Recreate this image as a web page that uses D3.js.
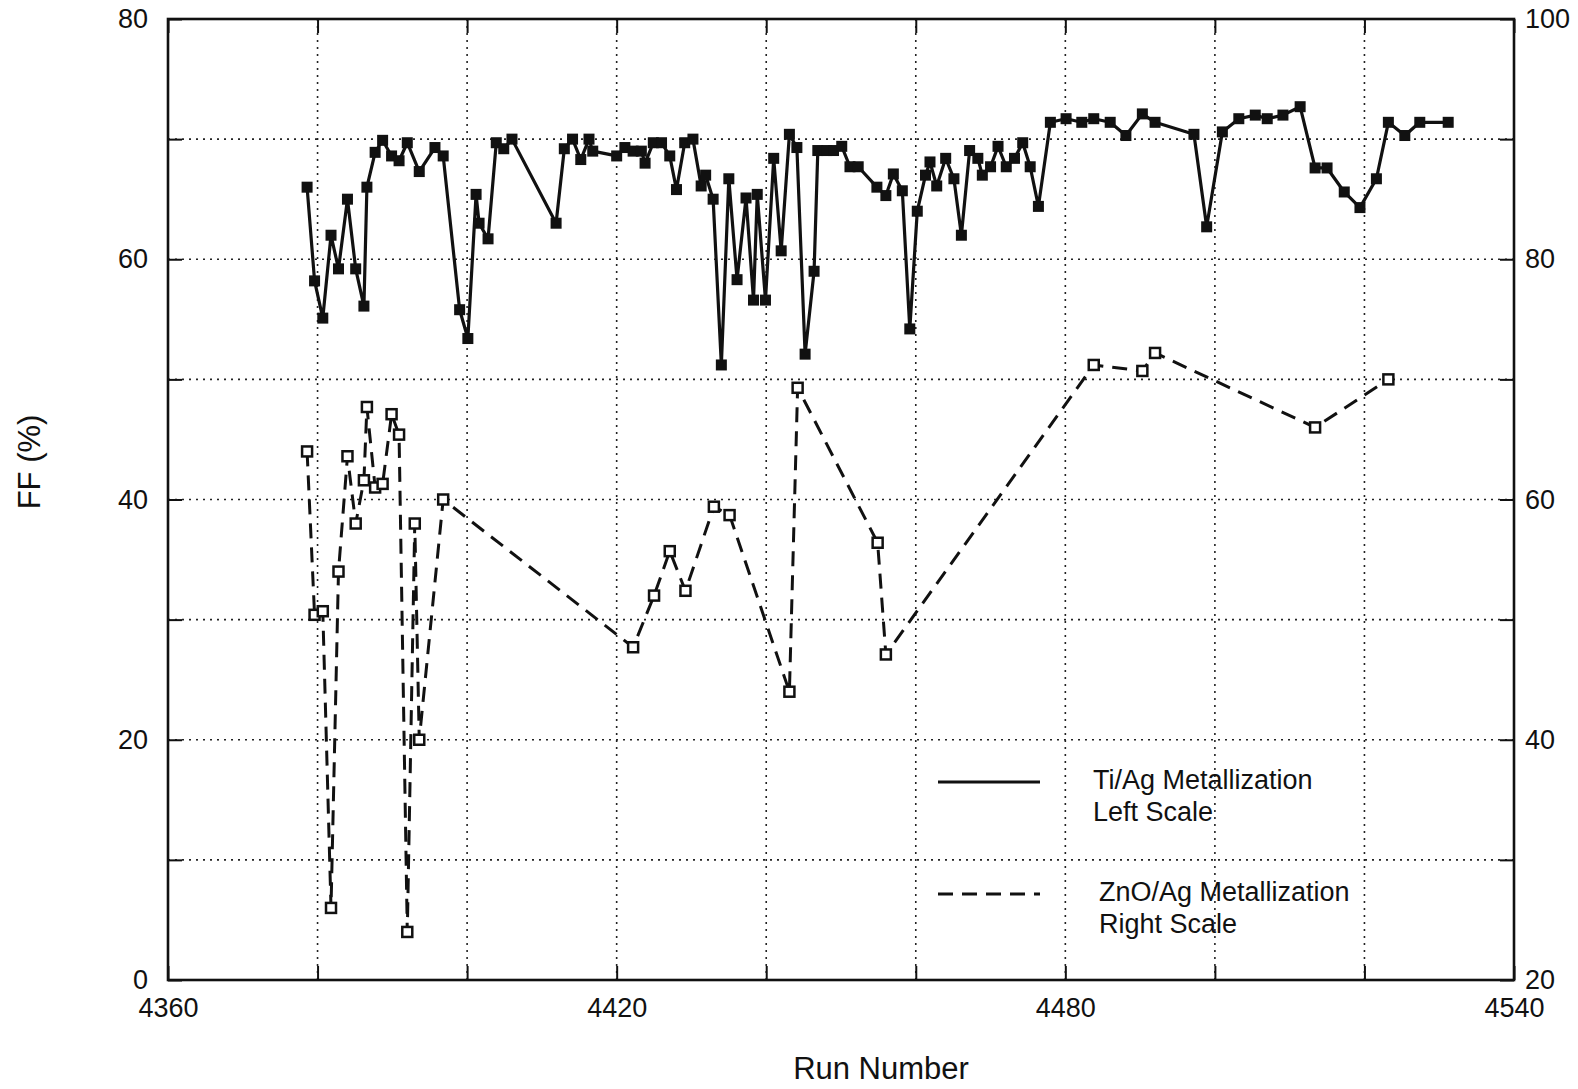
<!DOCTYPE html>
<html>
<head>
<meta charset="utf-8">
<script src="https://cdn.jsdelivr.net/npm/d3@7"></script>
<style>
  body { margin: 0; background: #fff; }
  text { font-family: "Liberation Sans", Arial, Helvetica, sans-serif; fill: #111; }
</style>
</head>
<body>
<svg id="chart" width="1578" height="1089"></svg>
<script>
// Ti/Ag metallization (left scale)
const tiRuns = [4378.6, 4379.6, 4380.7, 4381.8, 4382.8, 4384.0, 4385.1, 4386.2, 4386.6, 4387.7,
  4388.7, 4389.9, 4390.9, 4392.0, 4393.6, 4395.7, 4396.8, 4399.0, 4400.1, 4401.2,
  4401.6, 4402.8, 4403.9, 4404.9, 4406.0, 4411.9, 4413.0, 4414.1, 4415.2, 4416.3,
  4416.8, 4420.0, 4421.1, 4422.2, 4423.3, 4423.8, 4424.9, 4426.0, 4427.1, 4428.0,
  4429.1, 4430.2, 4431.3, 4431.9, 4432.9, 4434.0, 4435.0, 4436.1, 4437.3, 4438.3,
  4438.8, 4439.9, 4441.0, 4442.0, 4443.1, 4444.1, 4445.2, 4446.4, 4446.9, 4448.1,
  4449.0, 4450.1, 4451.2, 4452.3, 4454.8, 4456.0, 4457.0, 4458.2, 4459.2, 4460.2,
  4461.3, 4461.9, 4462.8, 4464.0, 4465.1, 4466.1, 4467.2, 4468.3, 4468.9, 4470.0,
  4471.0, 4472.1, 4473.2, 4474.3, 4475.3, 4476.4, 4478.0, 4480.1, 4482.2, 4483.8,
  4486.0, 4488.1, 4490.3, 4492.0, 4497.2, 4498.9, 4501.0, 4503.2, 4505.4, 4507.0,
  4509.1, 4511.4, 4513.4, 4515.0, 4517.3, 4519.4, 4521.6, 4523.2, 4525.4, 4527.4, 4531.2];
const tiFF = [66.0, 58.2, 55.1, 62.0, 59.2, 65.0, 59.2, 56.1, 66.0, 68.9,
  69.9, 68.6, 68.2, 69.7, 67.3, 69.3, 68.6, 55.8, 53.4, 65.4,
  63.0, 61.7, 69.7, 69.2, 70.0, 63.0, 69.2, 70.0, 68.3, 70.0,
  69.0, 68.6, 69.3, 69.0, 69.0, 68.0, 69.7, 69.7, 68.6, 65.8,
  69.7, 70.0, 66.1, 67.0, 65.0, 51.2, 66.7, 58.3, 65.1, 56.6,
  65.4, 56.6, 68.4, 60.7, 70.4, 69.3, 52.1, 59.0, 69.05, 69.05,
  69.05, 69.4, 67.7, 67.7, 66.0, 65.3, 67.1, 65.7, 54.2, 64.0,
  67.0, 68.1, 66.1, 68.4, 66.7, 62.0, 69.05, 68.4, 67.0, 67.7,
  69.4, 67.7, 68.4, 69.7, 67.7, 64.4, 71.4, 71.7, 71.4, 71.7,
  71.4, 70.3, 72.1, 71.4, 70.4, 62.7, 70.6, 71.7, 72.0, 71.7,
  72.0, 72.7, 67.6, 67.6, 65.6, 64.3, 66.7, 71.4, 70.3, 71.4, 71.4];

// ZnO/Ag metallization (right scale)
const znRuns = [4378.6, 4379.6, 4380.7, 4381.8, 4382.8, 4384.0, 4385.1, 4386.2, 4386.6, 4387.7,
  4388.7, 4389.9, 4390.9, 4392.0, 4393.0, 4393.6, 4396.8, 4422.2, 4425.0, 4427.1,
  4429.2, 4433.0, 4435.1, 4443.1, 4444.2, 4454.9, 4456.0, 4483.8, 4490.3, 4492.0,
  4513.4, 4523.2];
const znFF = [64.0, 50.4, 50.7, 26.0, 54.0, 63.6, 58.0, 61.6, 67.7, 61.0,
  61.3, 67.1, 65.4, 24.0, 58.0, 40.0, 60.0, 47.7, 52.0, 55.7,
  52.4, 59.4, 58.7, 44.0, 69.3, 56.4, 47.1, 71.2, 70.7, 72.2,
  66.0, 70.0];

const xTicks = d3.range(4360, 4541, 20);
const leftTicks = d3.range(0, 81, 10);
const rightTicks = d3.range(20, 101, 10);

const legendItems = [
  { lines: ["Ti/Ag Metallization", "Left Scale"], dash: null },
  { lines: ["ZnO/Ag Metallization", "Right Scale"], dash: "15,9" }
];

const L = 168, R = 1514, T = 19, B = 980;
const svg = d3.select('#chart');

const x = d3.scaleLinear().domain([4360, 4540]).range([L, R]);
const yL = d3.scaleLinear().domain([0, 80]).range([B, T]);
const yR = d3.scaleLinear().domain([20, 100]).range([B, T]);

// dotted grid
const grid = svg.append('g')
  .attr('stroke', '#222')
  .attr('stroke-width', 1.6)
  .attr('stroke-dasharray', '2,5');
grid.selectAll('.vg')
  .data(xTicks.slice(1, -1))
  .enter().append('line')
  .attr('x1', d => x(d)).attr('x2', d => x(d))
  .attr('y1', T).attr('y2', B);
grid.selectAll('.hg')
  .data(leftTicks.slice(1, -1))
  .enter().append('line')
  .attr('x1', L).attr('x2', R)
  .attr('y1', d => yL(d)).attr('y2', d => yL(d));

// axes with inward ticks
const styleAxis = (g) => {
  g.select('.domain').remove();
  g.selectAll('.tick line').attr('stroke', '#111').attr('stroke-width', 2);
  g.selectAll('.tick text').attr('font-size', 27).attr('fill', '#111');
};

svg.append('g')
  .attr('transform', `translate(${L},0)`)
  .call(d3.axisLeft(yL).tickValues(leftTicks).tickSize(-14).tickPadding(20)
    .tickFormat(d => d % 20 === 0 ? d : ''))
  .call(styleAxis);

svg.append('g')
  .attr('transform', `translate(${R},0)`)
  .call(d3.axisRight(yR).tickValues(rightTicks).tickSize(-14).tickPadding(11)
    .tickFormat(d => d % 20 === 0 ? d : ''))
  .call(styleAxis);

svg.append('g')
  .attr('transform', `translate(0,${B})`)
  .call(d3.axisBottom(x).tickValues(xTicks).tickSize(-14).tickPadding(18)
    .tickFormat(d => (d - 4360) % 60 === 0 ? d : ''))
  .call(styleAxis);

svg.append('g')
  .attr('transform', `translate(0,${T})`)
  .call(d3.axisTop(x).tickValues(xTicks).tickSize(-14).tickFormat(''))
  .call(styleAxis);

// frame
svg.append('rect')
  .attr('x', L).attr('y', T)
  .attr('width', R - L).attr('height', B - T)
  .attr('fill', 'none')
  .attr('stroke', '#111')
  .attr('stroke-width', 2.6);

// series
const tiData = tiRuns.map((r, i) => ({ r: r, v: tiFF[i] }));
const znData = znRuns.map((r, i) => ({ r: r, v: znFF[i] }));

svg.append('path')
  .datum(tiData)
  .attr('fill', 'none')
  .attr('stroke', '#111')
  .attr('stroke-width', 3.2)
  .attr('stroke-linejoin', 'round')
  .attr('d', d3.line().x(d => x(d.r)).y(d => yL(d.v)));

svg.append('path')
  .datum(znData)
  .attr('fill', 'none')
  .attr('stroke', '#111')
  .attr('stroke-width', 3)
  .attr('stroke-dasharray', '15,9')
  .attr('d', d3.line().x(d => x(d.r)).y(d => yR(d.v)));

const sq = 11;
svg.selectAll('.tiPt')
  .data(tiData)
  .enter().append('rect')
  .attr('x', d => x(d.r) - sq / 2)
  .attr('y', d => yL(d.v) - sq / 2)
  .attr('width', sq).attr('height', sq)
  .attr('fill', '#111');

svg.selectAll('.znPt')
  .data(znData)
  .enter().append('rect')
  .attr('x', d => x(d.r) - 5)
  .attr('y', d => yR(d.v) - 5)
  .attr('width', 10).attr('height', 10)
  .attr('fill', '#fff')
  .attr('stroke', '#111')
  .attr('stroke-width', 2.5);

// legend
const lg = svg.append('g');
legendItems.forEach((item, i) => {
  const ly = 782 + i * 112;
  lg.append('line')
    .attr('x1', 938).attr('x2', 1040)
    .attr('y1', ly).attr('y2', ly)
    .attr('stroke', '#111')
    .attr('stroke-width', 3)
    .attr('stroke-dasharray', item.dash);
  item.lines.forEach((t, j) => {
    lg.append('text')
      .attr('x', 1093 + i * 6)
      .attr('y', ly + 7 + j * 32)
      .attr('font-size', 27)
      .text(t);
  });
});

// axis titles
svg.append('text')
  .attr('transform', 'translate(40,462) rotate(-90)')
  .attr('text-anchor', 'middle')
  .attr('font-size', 31)
  .text('FF (%)');

svg.append('text')
  .attr('x', 881).attr('y', 1079)
  .attr('text-anchor', 'middle')
  .attr('font-size', 31)
  .text('Run Number');
</script>
</body>
</html>
